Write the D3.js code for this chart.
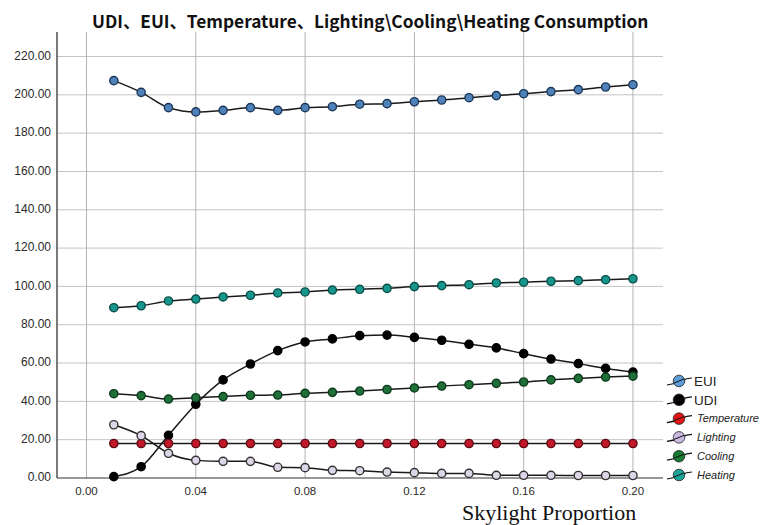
<!DOCTYPE html>
<html>
<head>
<meta charset="utf-8">
<script src="https://cdn.jsdelivr.net/npm/d3@7"></script>
<style>
  body { margin: 0; background: #fff; }
  svg { display: block; }
</style>
</head>
<body>
<div id="main"></div>
<script>
const ctx = {
  w: 764,
  h: 525,
};

// data
const skylight = [0.01, 0.02, 0.03, 0.04, 0.05, 0.06, 0.07, 0.08, 0.09, 0.10,
                  0.11, 0.12, 0.13, 0.14, 0.15, 0.16, 0.17, 0.18, 0.19, 0.20];
const seriesNames = ["EUI", "UDI", "Temperature", "Lighting", "Cooling", "Heating"];
const eui = [207.4, 201.3, 193.3, 191.1, 191.9, 193.3, 191.9, 193.3, 193.8, 195.1,
             195.4, 196.4, 197.3, 198.5, 199.6, 200.6, 201.7, 202.7, 204.1, 205.3];
const udi = [0.7, 5.9, 22.3, 38.5, 51.2, 59.5, 66.5, 71.0, 72.6, 74.3,
             74.6, 73.4, 71.9, 69.8, 67.9, 64.9, 62.1, 59.7, 57.2, 55.3];
const temperature = [18.0, 18.0, 18.0, 18.0, 18.0, 18.0, 18.0, 18.0, 18.0, 18.0,
                     18.0, 18.0, 18.0, 18.0, 18.0, 18.0, 18.0, 18.0, 18.0, 18.0];
const lighting = [27.8, 22.1, 12.9, 9.2, 8.7, 8.7, 5.6, 5.4, 4.0, 3.8,
                  3.1, 2.8, 2.4, 2.4, 1.4, 1.4, 1.4, 1.3, 1.3, 1.3];
const cooling = [44.0, 43.0, 41.2, 41.9, 42.5, 43.2, 43.3, 44.2, 44.7, 45.4,
                 46.2, 47.0, 48.0, 48.7, 49.4, 50.1, 51.2, 52.0, 52.7, 53.2];
const heating = [88.9, 89.9, 92.4, 93.4, 94.5, 95.4, 96.6, 97.1, 98.1, 98.5,
                 99.0, 99.9, 100.4, 100.9, 101.8, 102.2, 102.7, 103.0, 103.5, 104.0];
const xTicks = [0.00, 0.04, 0.08, 0.12, 0.16, 0.20];
const yTicks = [0, 20, 40, 60, 80, 100, 120, 140, 160, 180, 200, 220];

const markerFill = ["#4f82ba", "#000000", "#c3182a", "#dcd6e8", "#1f7038", "#16968d"];
const markerStroke = ["#1c3656", "#000000", "#5c0c12", "#333333", "#0c3a1b", "#0a4e49"];
const legendFill = ["#5d9bd8", "#000000", "#e21414", "#cbb8df", "#1b7a31", "#18a496"];

function createChart(svg) {
  const x = d3.scaleLinear().domain([-0.0108, 0.211]).range([57, 663]);
  const y = d3.scaleLinear().domain([0, 232.8]).range([478, 32]);

  const grid = svg.append("g");
  grid.selectAll(".hg").data(yTicks.slice(1)).enter().append("line")
    .attr("x1", x.range()[0]).attr("x2", x.range()[1])
    .attr("y1", d => y(d)).attr("y2", d => y(d))
    .style("stroke", "#c4c4c4").style("stroke-width", 1);
  grid.selectAll(".vg").data(xTicks).enter().append("line")
    .attr("x1", d => x(d)).attr("x2", d => x(d))
    .attr("y1", y.range()[1]).attr("y2", y.range()[0])
    .style("stroke", "#b4b4b4").style("stroke-width", 1);

  // axis lines
  svg.append("line")
    .attr("x1", 57).attr("x2", 57).attr("y1", y.range()[1]).attr("y2", y(0))
    .style("stroke", "#222").style("stroke-width", 1.2);
  svg.append("line")
    .attr("x1", 57).attr("x2", x.range()[1]).attr("y1", y(0)).attr("y2", y(0))
    .style("stroke", "#333").style("stroke-width", 1.2);

  // tick labels
  svg.append("g").selectAll("text").data(yTicks).enter().append("text")
    .attr("x", 51).attr("y", d => y(d) - 1).attr("dy", "0.35em")
    .attr("text-anchor", "end")
    .style("font-family", "Liberation Sans, Arial, sans-serif")
    .style("font-size", "12px").style("fill", "#2a2a2a")
    .text(d => d3.format(".2f")(d));
  svg.append("g").selectAll("text").data(xTicks).enter().append("text")
    .attr("x", d => x(d)).attr("y", 495)
    .attr("text-anchor", "middle")
    .style("font-family", "Liberation Sans, Arial, sans-serif")
    .style("font-size", "11.5px").style("fill", "#2a2a2a")
    .text(d => d3.format(".2f")(d));

  const all = [eui, udi, temperature, lighting, cooling, heating];
  const line = d3.line()
    .x((d, i) => x(skylight[i]))
    .y(d => y(d))
    .curve(d3.curveMonotoneX);

  all.forEach((vals, k) => {
    const g = svg.append("g");
    g.append("path").datum(vals)
      .attr("d", line)
      .style("fill", "none").style("stroke", "#1a1a1a").style("stroke-width", 1.5);
    g.selectAll("circle").data(vals).enter().append("circle")
      .attr("cx", (d, i) => x(skylight[i]))
      .attr("cy", d => y(d))
      .attr("r", 4.1)
      .style("fill", markerFill[k])
      .style("stroke", markerStroke[k])
      .style("stroke-width", 1.4);
  });

  // legend
  const leg = svg.append("g").selectAll("g").data(seriesNames).enter().append("g")
    .attr("transform", (d, i) => `translate(679,${381 + i * 18.8})`);
  leg.append("path")
    .attr("d", "M-12,4 Q-4,3 2,0 T13,-3")
    .style("fill", "none").style("stroke", "#111").style("stroke-width", 1.2);
  leg.append("circle")
    .attr("r", 5.8)
    .style("fill", (d, i) => legendFill[i])
    .style("stroke", "#222").style("stroke-width", 0.8);
  leg.append("path")
    .attr("d", "M-5,2 Q0,0 5,-2")
    .style("fill", "none").style("stroke", "#111").style("stroke-width", 1);
  leg.append("text")
    .attr("x", (d, i) => i < 2 ? 15 : 18)
    .attr("y", 0).attr("dy", "0.35em")
    .style("font-family", "Liberation Sans, Arial, sans-serif")
    .style("font-size", (d, i) => i < 2 ? "13.5px" : "11px")
    .style("font-style", (d, i) => i < 2 ? "normal" : "italic")
    .style("fill", "#222")
    .text(d => d);

  // titles
  const title = svg.append("text")
    .attr("x", 92).attr("y", 28)
    .style("font-family", "'Noto Sans CJK SC', 'Noto Sans', sans-serif")
    .style("font-weight", "bold")
    .style("font-size", "18px")
    .style("fill", "#111")
    .text("UDI、EUI、Temperature、Lighting\\Cooling\\Heating Consumption");
  const tw = title.node().getComputedTextLength();
  const fs = Math.max(15, Math.min(21, 18 * 557 / tw));
  title.style("font-size", fs + "px");

  svg.append("text")
    .attr("x", 462).attr("y", 520)
    .style("font-family", "'Liberation Serif', 'Times New Roman', serif")
    .style("font-size", "22px")
    .style("fill", "#111")
    .text("Skylight Proportion");
}

function createViz() {
  let svgEl = d3.select("#main").append("svg");
  svgEl.attr("width", ctx.w);
  svgEl.attr("height", ctx.h);
  createChart(svgEl);
}

createViz();
</script>
</body>
</html>
